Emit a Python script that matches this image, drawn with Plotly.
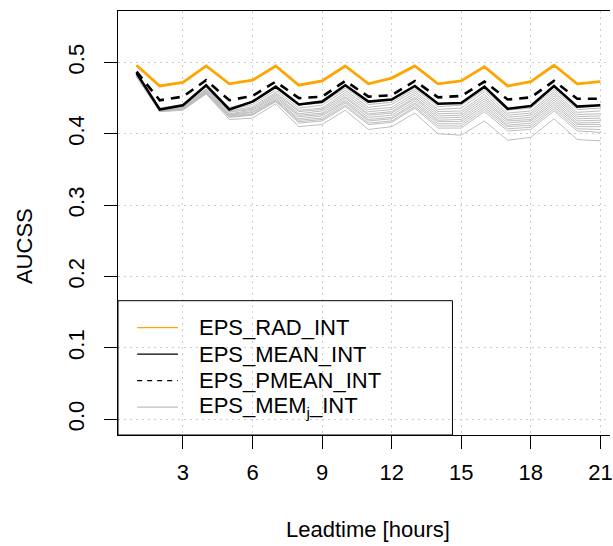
import plotly.graph_objects as go

leadtime = list(range(1, 22))

eps_rad_int = [0.496, 0.467, 0.472, 0.495, 0.470, 0.475, 0.495, 0.468, 0.474, 0.495, 0.470,
               0.478, 0.495, 0.470, 0.474, 0.494, 0.467, 0.473, 0.496, 0.470, 0.473]
eps_mean_int = [0.485, 0.434, 0.440, 0.468, 0.434, 0.445, 0.466, 0.441, 0.445, 0.468, 0.445,
                0.448, 0.467, 0.442, 0.443, 0.466, 0.435, 0.439, 0.467, 0.438, 0.440]
eps_pmean_int = [0.487, 0.447, 0.452, 0.475, 0.447, 0.453, 0.473, 0.450, 0.452, 0.474, 0.452,
                 0.454, 0.474, 0.451, 0.453, 0.473, 0.448, 0.451, 0.474, 0.449, 0.449]

mem01 = [0.484, 0.436, 0.441, 0.466, 0.437, 0.444, 0.464, 0.440, 0.443, 0.464, 0.441, 0.444, 0.463, 0.438, 0.440, 0.462, 0.433, 0.436, 0.462, 0.434, 0.436]
mem02 = [0.483, 0.435, 0.439, 0.463, 0.434, 0.441, 0.461, 0.436, 0.440, 0.461, 0.437, 0.441, 0.460, 0.434, 0.436, 0.459, 0.429, 0.432, 0.459, 0.430, 0.432]
mem03 = [0.482, 0.434, 0.438, 0.461, 0.432, 0.438, 0.458, 0.433, 0.436, 0.458, 0.434, 0.437, 0.457, 0.431, 0.432, 0.455, 0.426, 0.429, 0.456, 0.427, 0.428]
mem04 = [0.483, 0.433, 0.437, 0.460, 0.430, 0.436, 0.456, 0.431, 0.434, 0.455, 0.431, 0.434, 0.454, 0.428, 0.429, 0.452, 0.423, 0.426, 0.453, 0.424, 0.425]
mem05 = [0.481, 0.434, 0.436, 0.462, 0.431, 0.434, 0.454, 0.428, 0.432, 0.452, 0.428, 0.431, 0.451, 0.425, 0.426, 0.449, 0.420, 0.423, 0.450, 0.421, 0.422]
mem06 = [0.482, 0.433, 0.437, 0.459, 0.428, 0.433, 0.452, 0.426, 0.429, 0.450, 0.426, 0.429, 0.449, 0.422, 0.423, 0.446, 0.418, 0.420, 0.447, 0.418, 0.419]
mem07 = [0.481, 0.432, 0.435, 0.458, 0.427, 0.431, 0.450, 0.424, 0.427, 0.447, 0.423, 0.426, 0.446, 0.419, 0.420, 0.443, 0.415, 0.418, 0.444, 0.415, 0.416]
mem08 = [0.480, 0.433, 0.436, 0.457, 0.426, 0.430, 0.448, 0.421, 0.425, 0.445, 0.420, 0.423, 0.443, 0.417, 0.417, 0.440, 0.412, 0.415, 0.441, 0.413, 0.413]
mem09 = [0.481, 0.432, 0.434, 0.458, 0.425, 0.428, 0.447, 0.419, 0.422, 0.443, 0.418, 0.421, 0.441, 0.414, 0.414, 0.437, 0.410, 0.412, 0.438, 0.410, 0.410]
mem10 = [0.480, 0.431, 0.434, 0.456, 0.424, 0.427, 0.445, 0.417, 0.420, 0.440, 0.415, 0.418, 0.438, 0.411, 0.411, 0.434, 0.407, 0.409, 0.435, 0.407, 0.406]
mem11 = [0.480, 0.432, 0.435, 0.457, 0.423, 0.426, 0.446, 0.415, 0.418, 0.438, 0.413, 0.416, 0.436, 0.408, 0.408, 0.431, 0.404, 0.406, 0.432, 0.404, 0.402]
mem12 = [0.480, 0.431, 0.433, 0.456, 0.420, 0.422, 0.442, 0.410, 0.413, 0.433, 0.406, 0.410, 0.429, 0.400, 0.398, 0.418, 0.391, 0.395, 0.421, 0.392, 0.390]
members = [mem01, mem02, mem03, mem04, mem05, mem06, mem07, mem08, mem09, mem10, mem11, mem12]

x_ticks = [3, 6, 9, 12, 15, 18, 21]
y_ticks = [0.0, 0.1, 0.2, 0.3, 0.4, 0.5]
y_ticktext = ["0.0", "0.1", "0.2", "0.3", "0.4", "0.5"]

legend_labels = ["EPS_RAD_INT", "EPS_MEAN_INT", "EPS_PMEAN_INT", "EPS_MEM<sub>j</sub>_INT"]

FONT = "Liberation Sans, Arial, Helvetica, sans-serif"
W, H = 613, 546
ML, MT, MB, MR = 118, 11, 111, 0
PW, PH = W - ML - MR, H - MT - MB

fig = go.Figure()
for m in members:
    fig.add_trace(go.Scatter(x=leadtime, y=m, mode="lines",
                             line=dict(color="#BEBEBE", width=1), showlegend=False, hoverinfo="skip"))
fig.add_trace(go.Scatter(x=leadtime, y=eps_mean_int, mode="lines",
                         line=dict(color="black", width=2.6), showlegend=False))
fig.add_trace(go.Scatter(x=leadtime, y=eps_pmean_int, mode="lines",
                         line=dict(color="black", width=2.6, dash="9px,7px"), showlegend=False))
fig.add_trace(go.Scatter(x=leadtime, y=eps_rad_int, mode="lines",
                         line=dict(color="#FFA500", width=2.8), showlegend=False))

def px_x(px):
    return (px - ML) / PW

def px_y(py):
    return (H - MB - py) / PH

shapes = []
annotations = []
shapes.append(dict(type="rect", xref="paper", yref="paper", x0=0, x1=px_x(454.5),
                   y0=0, y1=px_y(300.7), line=dict(color="black", width=1),
                   fillcolor="rgba(0,0,0,0)", layer="above"))
leg_styles = [dict(color="#FFA500", width=1.2), dict(color="black", width=1.3),
              dict(color="black", width=1.3, dash="5px,5px"), dict(color="#BEBEBE", width=1.2)]
row_y = [327.7, 354.2, 380.7, 407.2]
for lab, st, ry in zip(legend_labels, leg_styles, row_y):
    shapes.append(dict(type="line", xref="paper", yref="paper", x0=px_x(137.3), x1=px_x(178.3),
                       y0=px_y(ry), y1=px_y(ry), line=st, layer="above"))
    annotations.append(dict(xref="paper", yref="paper", x=px_x(197), y=px_y(ry),
                            xanchor="left", yanchor="middle", text=lab, showarrow=False,
                            font=dict(family=FONT, size=22, color="black")))

annotations.append(dict(xref="paper", yref="paper", x=px_x(369.5), y=px_y(529.5),
                        xanchor="center", yanchor="middle", text="Leadtime [hours]",
                        showarrow=False, font=dict(family=FONT, size=22, color="black")))
annotations.append(dict(xref="paper", yref="paper", x=px_x(23.5), y=px_y(246),
                        xanchor="center", yanchor="middle", text="AUCSS", textangle=-90,
                        showarrow=False, font=dict(family=FONT, size=22, color="black")))

fig.update_layout(
    width=W, height=H,
    margin=dict(l=ML, r=MR, t=MT, b=MB, pad=0),
    paper_bgcolor="white", plot_bgcolor="white",
    font=dict(family=FONT, size=22, color="black"),
    shapes=shapes, annotations=annotations,
    showlegend=False,
)
fig.update_xaxes(range=[0.2, 0.2 + PW / (70 / 3)], tickvals=x_ticks, ticks="outside", ticklen=13,
                 tickwidth=1, tickcolor="black", showline=True, linecolor="black", linewidth=1,
                 mirror=True, showgrid=True, gridcolor="#CCCCCC", griddash="2px,4px", gridwidth=1,
                 zeroline=False, tickfont=dict(family=FONT, size=22), ticklabelstandoff=5,
                 ticklabeloverflow="allow")
fig.update_yaxes(range=[-0.022, 0.572], tickvals=y_ticks, ticktext=y_ticktext, tickangle=-90,
                 ticks="outside", ticklen=13, tickwidth=1, tickcolor="black", showline=True,
                 linecolor="black", linewidth=1, mirror=False, showgrid=True, gridcolor="#CCCCCC",
                 griddash="2px,4px", gridwidth=1, zeroline=False, tickfont=dict(family=FONT, size=22),
                 ticklabelstandoff=11)

fig.write_html("out.html", config={"displayModeBar": False},
               post_script="document.body.style.margin='0';document.body.style.overflow='hidden';")
